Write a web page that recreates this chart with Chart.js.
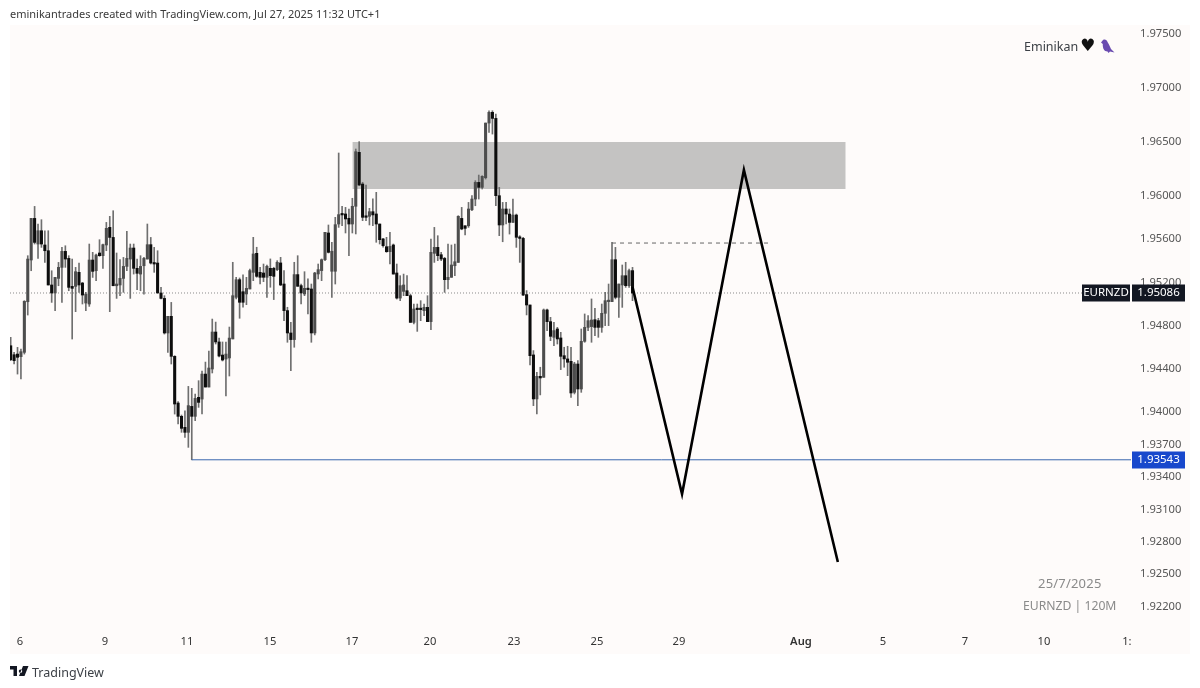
<!DOCTYPE html>
<html><head><meta charset="utf-8">
<script src="https://cdn.jsdelivr.net/npm/chart.js@4/dist/chart.umd.js"></script>
<style>
html,body{margin:0;padding:0;background:#fff;width:1200px;height:688px;overflow:hidden}
#pane{position:absolute;left:10px;top:25px;width:1180px;height:629px;background:#fefbfa}
canvas{position:absolute;left:0;top:0}
.t{position:absolute;white-space:nowrap;font-family:"Noto Sans",sans-serif;color:#444}
</style></head><body>
<div id="pane"></div>
<canvas id="c" width="1200" height="688"></canvas>
<div class="t" style="left:10px;top:6px;font-size:11px;color:#3a3a3a" id="head">eminikantrades created with TradingView.com, Jul 27, 2025 11:32 UTC+1</div>
<div class="t" style="left:1024px;top:38px;font-size:12.5px;color:#3c4046">Eminikan</div>
<div class="t" style="left:1080px;top:35px;font-size:17px;color:#111;font-family:'DejaVu Sans'">♥</div>
<svg style="position:absolute;left:1100px;top:39px" width="15" height="15" viewBox="0 0 15 15"><path d="M3 1 C5 0 7 1 7.5 3 C9 5 10 8 11 10 L14.5 13.5 L10 12.5 L8.5 14 L7.5 12.5 C4 12.5 2.5 9 2.8 5 L1 3.5 Z" fill="#6a4bb0"/></svg>
<div class="t" style="left:1038px;top:574px;font-size:13px;letter-spacing:.2px;color:#8a8a8a">25/7/2025</div>
<div class="t" style="left:1023px;top:597px;font-size:12.2px;color:#8a8a8a">EURNZD | 120M</div>
<svg style="position:absolute;left:10px;top:666px" width="19" height="11" viewBox="0 0 19 11"><path d="M0 0H7V10H3.5V3.5H0Z M10.5 3.5a1.7 1.7 0 1 0 .01 0Z M9 10L13 0H18.5L14.5 10Z" fill="#131722"/></svg>
<div class="t" style="left:32px;top:664px;font-size:12.5px;color:#3c4046">TradingView</div>
<script>
const symbolName = "EURNZD";
const lastPrice = 1.95086;
const supportPrice = 1.93543;
const timeframeLabels = ["6","9","11","15","17","20","23","25","29","Aug","5","7","10","1:"];
const timeframeTicks = [2.7,27.6,51.6,75.9,99.9,122.7,147.3,171.6,195.6,231.3,255.3,279.3,302.4,326.7];
const priceTicks = [1.975,1.97,1.965,1.96,1.956,1.952,1.948,1.944,1.94,1.937,1.934,1.931,1.928,1.925,1.922];
const highs = [
1.94676,1.94537,1.94583,1.94568,1.95015,1.95431,1.95776,1.95887,1.95724,1.95764,
1.95662,1.95662,1.95292,1.95230,1.95369,1.95508,1.95523,1.95431,1.95400,1.95323,
1.95363,1.95184,1.95092,1.95539,1.95462,1.95446,1.95579,1.95539,1.95739,1.95795,
1.95847,1.95456,1.95394,1.95415,1.95656,1.95539,1.95539,1.95400,1.95431,1.95415,
1.95724,1.95600,1.95508,1.95477,1.95138,1.95061,1.94870,1.94999,1.94506,1.94081,
1.93957,1.93997,1.94222,1.94204,1.94151,1.94275,1.94364,1.94447,1.94549,1.94845,
1.94817,1.94669,1.94633,1.94633,1.94771,1.95370,1.95231,1.95225,1.95253,1.95231,
1.95308,1.95601,1.95509,1.95324,1.95354,1.95345,1.95401,1.95324,1.95385,1.95416,
1.95293,1.94954,1.94815,1.95370,1.95431,1.95169,1.95283,1.95216,1.95169,1.95277,
1.95354,1.95401,1.95647,1.95715,1.95555,1.95786,1.96381,1.95888,1.95878,1.95863,
1.95962,1.96418,1.96486,1.96110,1.96085,1.95869,1.95956,1.96017,1.95724,1.95592,
1.95601,1.95647,1.95539,1.95354,1.95246,1.95261,1.95246,1.95076,1.94984,1.94984,
1.95015,1.94984,1.95061,1.95585,1.95693,1.95616,1.95462,1.95416,1.95539,1.95530,
1.95539,1.95801,1.95878,1.95708,1.95924,1.95986,1.96125,1.96177,1.96171,1.96658,
1.96772,1.96772,1.96741,1.96063,1.95924,1.95924,1.95863,1.95955,1.95816,1.95616,
1.95601,1.95108,1.94975,1.94553,1.94352,1.94399,1.94938,1.94938,1.94861,1.94815,
1.94768,1.94722,1.94584,1.94593,1.94584,1.94445,1.94460,1.94753,1.94892,1.94876,
1.95031,1.94944,1.94852,1.94984,1.95092,1.95169,1.95555,1.95508,1.95169,1.95345,
1.95370,1.95308,1.95323];
const lows = [
1.94460,1.94429,1.94336,1.94290,1.94521,1.94882,1.95292,1.95539,1.95406,1.95508,
1.95369,1.95160,1.94999,1.94922,1.95153,1.94999,1.95323,1.95107,1.94660,1.94913,
1.95092,1.94984,1.94922,1.94962,1.95230,1.95200,1.95425,1.95314,1.95477,1.94913,
1.95153,1.95036,1.95061,1.95092,1.95292,1.95036,1.95261,1.95116,1.95107,1.95076,
1.95400,1.95354,1.95277,1.95086,1.95030,1.94706,1.94537,1.94429,1.93966,1.93874,
1.93797,1.93751,1.93658,1.93543,1.93905,1.94028,1.93967,1.94216,1.94216,1.94346,
1.94614,1.94494,1.94457,1.94133,1.94318,1.94661,1.95031,1.94852,1.94954,1.94978,
1.95123,1.95200,1.95231,1.95169,1.95191,1.95046,1.95139,1.95025,1.95293,1.95154,
1.94830,1.94630,1.94368,1.94584,1.95148,1.94984,1.95061,1.94892,1.94630,1.94698,
1.95216,1.95200,1.95385,1.95456,1.95046,1.95169,1.95693,1.95709,1.95641,1.95431,
1.95641,1.95632,1.96079,1.95755,1.95755,1.95715,1.95709,1.95555,1.95539,1.95509,
1.95462,1.95354,1.95261,1.95030,1.95015,1.95061,1.95061,1.94814,1.94799,1.94731,
1.94830,1.94876,1.94821,1.94747,1.95369,1.95385,1.95385,1.95092,1.95123,1.95231,
1.95246,1.95369,1.95671,1.95622,1.95693,1.95847,1.95893,1.95955,1.96048,1.96140,
1.96572,1.96556,1.95893,1.95616,1.95560,1.95724,1.95631,1.95739,1.95508,1.95369,
1.95061,1.94883,1.94420,1.94044,1.93967,1.94143,1.94306,1.94738,1.94645,1.94599,
1.94614,1.94377,1.94399,1.94321,1.94121,1.94152,1.94044,1.94167,1.94630,1.94738,
1.94630,1.94691,1.94676,1.94722,1.94784,1.94784,1.95006,1.95031,1.94861,1.94953,
1.95138,1.95138,1.95015];
const opens = [
1.94598,1.94515,1.94521,1.94497,1.94537,1.95005,1.95391,1.95776,1.95539,1.95662,
1.95530,1.95477,1.95160,1.95086,1.95221,1.95323,1.95471,1.95406,1.95147,1.95147,
1.95277,1.95178,1.94993,1.94984,1.95391,1.95292,1.95456,1.95431,1.95530,1.95693,
1.95600,1.95153,1.95160,1.95221,1.95332,1.95400,1.95502,1.95314,1.95261,1.95338,
1.95400,1.95533,1.95363,1.95363,1.95086,1.95036,1.94716,1.94870,1.94500,1.94068,
1.93945,1.93843,1.93797,1.94037,1.93945,1.94121,1.94105,1.94336,1.94216,1.94383,
1.94725,1.94633,1.94512,1.94475,1.94485,1.94661,1.95046,1.95209,1.95098,1.95077,
1.95123,1.95277,1.95453,1.95277,1.95271,1.95231,1.95314,1.95314,1.95302,1.95364,
1.95169,1.94923,1.94716,1.94655,1.95256,1.95154,1.95077,1.95129,1.95123,1.94716,
1.95262,1.95293,1.95394,1.95641,1.95287,1.95287,1.95724,1.95817,1.95817,1.95777,
1.95724,1.95888,1.96387,1.96094,1.95795,1.95795,1.95838,1.95817,1.95724,1.95586,
1.95514,1.95468,1.95530,1.95271,1.95039,1.95101,1.95107,1.95061,1.94814,1.94944,
1.94944,1.94922,1.94953,1.94821,1.95453,1.95508,1.95440,1.95406,1.95209,1.95231,
1.95338,1.95369,1.95776,1.95708,1.95708,1.95856,1.95955,1.96109,1.96063,1.96152,
1.96658,1.96757,1.96701,1.95986,1.95715,1.95863,1.95816,1.95739,1.95807,1.95601,
1.95591,1.95071,1.94975,1.94513,1.94106,1.94315,1.94306,1.94929,1.94821,1.94676,
1.94753,1.94670,1.94506,1.94476,1.94454,1.94167,1.94429,1.94198,1.94639,1.94768,
1.94775,1.94839,1.94830,1.94768,1.94898,1.95006,1.95006,1.95394,1.95046,1.95160,
1.95246,1.95154,1.95293];
const closes = [
1.94469,1.94460,1.94491,1.94543,1.95009,1.95400,1.95776,1.95554,1.95662,1.95539,
1.95477,1.95160,1.95086,1.95230,1.95323,1.95471,1.95400,1.95138,1.95129,1.95283,
1.95160,1.95067,1.95076,1.95391,1.95286,1.95437,1.95431,1.95533,1.95684,1.95600,
1.95153,1.95169,1.95221,1.95332,1.95406,1.95502,1.95314,1.95268,1.95332,1.95406,
1.95533,1.95363,1.95354,1.95086,1.95036,1.94716,1.94870,1.94500,1.94059,1.93945,
1.93834,1.93797,1.94044,1.93945,1.94111,1.94074,1.94336,1.94216,1.94392,1.94725,
1.94633,1.94503,1.94466,1.94521,1.94669,1.95061,1.95209,1.95000,1.95000,1.95129,
1.95293,1.95447,1.95240,1.95231,1.95231,1.95333,1.95246,1.95240,1.95370,1.95160,
1.94923,1.94716,1.94655,1.95256,1.95148,1.95086,1.95129,1.95117,1.94716,1.95271,
1.95302,1.95394,1.95647,1.95462,1.95472,1.95718,1.95811,1.95808,1.95771,1.95724,
1.95888,1.96393,1.96085,1.95786,1.95786,1.95838,1.95808,1.95724,1.95579,1.95524,
1.95468,1.95517,1.95261,1.95039,1.95154,1.95160,1.95061,1.94814,1.94938,1.94932,
1.94932,1.94953,1.94821,1.95462,1.95508,1.95431,1.95400,1.95209,1.95231,1.95345,
1.95375,1.95795,1.95678,1.95684,1.95863,1.95955,1.96109,1.96063,1.96165,1.96658,
1.96757,1.96701,1.95986,1.95715,1.95863,1.95816,1.95739,1.95807,1.95601,1.95591,
1.95067,1.94975,1.94506,1.94106,1.94315,1.94300,1.94929,1.94821,1.94685,1.94738,
1.94661,1.94500,1.94476,1.94445,1.94161,1.94429,1.94198,1.94639,1.94768,1.94830,
1.94836,1.94768,1.94768,1.94898,1.95015,1.95015,1.95394,1.95046,1.95169,1.95246,
1.95154,1.95293,1.95086];
const xMin = -0.2, xMax = 327.9, yMin = 1.91987, yMax = 1.97565;
const zoneX = [100, 244.4];
const zoneTop = 1.96483, zoneBottom = 1.96049;
const projectionX = [182, 196.5, 214.6, 242.1];
const projectionY = [1.95141, 1.93227, 1.96224, 1.92598];
const dashX = [176, 222.2];
const dashPrice = 1.95548;
const supportStartX = 53;

const pts = (xs, ys) => xs.map((x, i) => ({x, y: Array.isArray(ys) ? ys[i] : ys}));
const lineBase = {type:'line', pointRadius:0, pointHoverRadius:0, fill:false, tension:0};
const idx = highs.map((_, i) => i);
const font = {family:'"Noto Sans",sans-serif', size:11.2};

const tags = {
  id:'tags',
  beforeDraw(chart){
    // the price-axis text sits slightly lower in the reference
    chart.scales.y.getLabelItems(chart.chartArea).forEach(it => { it.options.translation[1] += 1.7; });
  },
  afterDraw(chart){
    const {ctx, scales:{y}} = chart;
    const drawTag = (x, w, price, bg, text) => {
      const py = y.getPixelForValue(price);
      ctx.fillStyle = bg;
      ctx.fillRect(x, Math.round(py) - 8.5, w, 17);
      ctx.fillStyle = '#fff';
      ctx.font = '11.5px "Noto Sans",sans-serif';
      ctx.textAlign = 'center'; ctx.textBaseline = 'middle';
      ctx.fillText(text, x + w/2, Math.round(py));
    };
    drawTag(1082, 48, lastPrice, '#131722', symbolName);
    drawTag(1132, 53, lastPrice, '#131722', lastPrice.toFixed(5));
    drawTag(1132, 53, supportPrice, '#1848cc', supportPrice.toFixed(5));
  }
};

new Chart(document.getElementById('c'), {
  data:{
    datasets:[
      {...lineBase, label:'zoneTop', data:pts(zoneX, zoneTop), borderWidth:0, fill:'+1', backgroundColor:'#c4c3c2', order:10},
      {...lineBase, label:'zoneBottom', data:pts(zoneX, zoneBottom), borderWidth:0, order:11},
      {...lineBase, label:'last', data:pts([xMin, xMax], lastPrice), borderColor:'#8a8a8a', borderWidth:1, borderDash:[1,2], order:9},
      {type:'bar', label:'wicks', grouped:false, barThickness:1, order:5,
        backgroundColor:'#6f6f6f', data:idx.map(i => ({x:i, y:[lows[i], highs[i]]}))},
      {type:'bar', label:'bodies', grouped:false, barThickness:2.4, order:4, minBarLength:1.5,
        backgroundColor:idx.map(i => closes[i] >= opens[i] ? '#4d4d4d' : '#0d0d0d'),
        data:idx.map(i => ({x:i, y:[opens[i], closes[i]]}))},
      {...lineBase, label:'support', data:pts([supportStartX, xMax], supportPrice), borderColor:'#3a66ad', borderWidth:1, order:3},
      {...lineBase, label:'dash', data:pts(dashX, dashPrice), borderColor:'#666', borderWidth:1, borderDash:[4,4], order:2},
      {...lineBase, label:'projection', data:pts(projectionX, projectionY), borderColor:'#000', borderWidth:2.6, order:1}
    ]
  },
  options:{
    responsive:false, animation:false, devicePixelRatio:1,
    layout:{padding:{left:10, top:25, right:10, bottom:34}},
    plugins:{legend:{display:false}, tooltip:{enabled:false}},
    scales:{
      x:{type:'linear', min:xMin, max:xMax, offset:false,
        grid:{display:false, drawTicks:false}, border:{display:false},
        afterBuildTicks:s => { s.ticks = timeframeTicks.map(v => ({value:v})); },
        afterFit:s => { s.height = 26; },
        ticks:{autoSkip:false, maxRotation:0, padding:7, color:'#333',
          font:c => ({...font, weight: c.index === 9 ? '600' : 'normal'}),
          callback:(v, i) => timeframeLabels[i]}},
      y:{type:'linear', position:'right', min:yMin, max:yMax,
        grid:{display:false, drawTicks:false}, border:{display:false},
        afterBuildTicks:s => { s.ticks = priceTicks.map(v => ({value:v})); },
        afterFit:s => { s.width = 59; },
        ticks:{autoSkip:false, padding:9, color:'#555', font,
          callback:v => Number(v).toFixed(5)}}
    }
  },
  plugins:[tags]
});
</script>
</body></html>
